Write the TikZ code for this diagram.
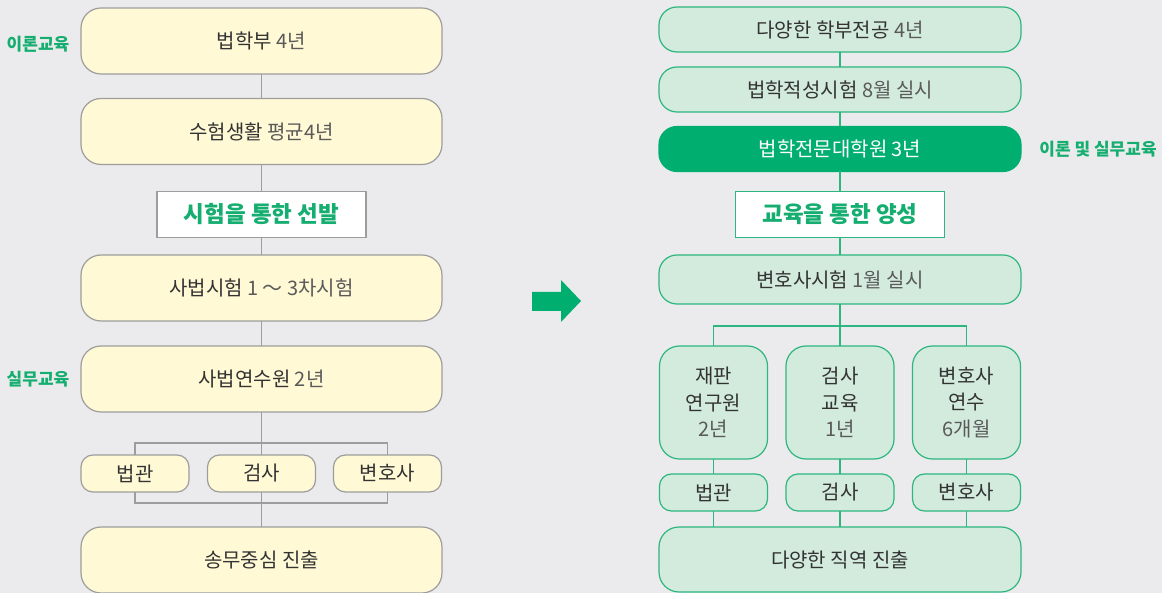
\documentclass[tikz,border=0pt]{standalone}
\usepackage{fontspec}
\setmainfont{Noto Sans CJK KR}
\definecolor{bg}{HTML}{EBEBED}
\definecolor{cream}{HTML}{FFF9D5}
\definecolor{grayline}{HTML}{9D9D9D}
\definecolor{lgreen}{HTML}{D3EBDD}
\definecolor{gline}{HTML}{2DB67F}
\definecolor{dgreen}{HTML}{00AE6F}
\definecolor{tgreen}{HTML}{16AE70}
\definecolor{txt}{HTML}{333333}
\definecolor{ltxt}{HTML}{5A5A5A}
\newcommand{\lt}[1]{{\color{ltxt}#1}}
\tikzset{
  base/.style={inner sep=0pt, outer sep=0pt, align=center, font=\fontsize{20}{26.5}\selectfont, text=txt},
  ybox/.style={base, draw=grayline, line width=1.2pt, fill=cream, rounded corners=20pt, minimum width=361pt, minimum height=66pt},
  ysmall/.style={base, draw=grayline, line width=1.2pt, fill=cream, rounded corners=12pt, minimum width=108pt, minimum height=37pt},
  gbox/.style={base, draw=gline, line width=1.2pt, fill=lgreen, rounded corners=18pt, minimum width=362pt, minimum height=45pt},
  gtall/.style={base, draw=gline, line width=1.2pt, fill=lgreen, rounded corners=20pt, minimum width=108pt, minimum height=113pt},
  gsmall/.style={base, draw=gline, line width=1.2pt, fill=lgreen, rounded corners=12pt, minimum width=108pt, minimum height=37pt},
  wbox/.style={base, fill=white, line width=1.2pt, minimum width=209pt, minimum height=46pt, font=\fontsize{22.5}{26}\selectfont\bfseries, text=tgreen},
  side/.style={inner sep=0pt, font=\fontsize{17}{20}\selectfont\bfseries, text=tgreen},
  lconn/.style={draw=grayline, line width=1.2pt},
  gconn/.style={draw=gline, line width=1.8pt},
}
\begin{document}
\begin{tikzpicture}[x=1pt,y=-1pt]
\fill[bg] (0,0) rectangle (1162,593);
\useasboundingbox (0,0) rectangle (1162,593);

% ---------- left column ----------
\coordinate (ltl) at (135,443);
\coordinate (ltr) at (387.5,443);
\coordinate (lbl) at (135,503);
\coordinate (lbr) at (387.5,503);

\node[ybox] (L1) at (261.5,41) {법학부 \lt{4년}};
\node[ybox] (L2) at (261.5,131.5) {수험생활 \lt{평균4년}};
\node[wbox, draw=grayline] (LW) at (261.5,214.5) {시험을 통한 선발};
\node[ybox] (L3) at (261.5,288) {사법시험 \lt{1 ～ 3차시험}};
\node[ybox] (L4) at (261.5,379) {사법연수원 \lt{2년}};
\node[ysmall] (LB1) at (135,473.5) {법관};
\node[ysmall] (LB2) at (261.5,473.5) {검사};
\node[ysmall] (LB3) at (387.5,473.5) {변호사};
\node[ybox] (L5) at (261.5,560) {송무중심 진출};

\draw[lconn] (L1.south) -- (L2.north);
\draw[lconn] (L2.south) -- (LW.north);
\draw[lconn] (LW.south) -- (L3.north);
\draw[lconn] (L3.south) -- (L4.north);
\draw[lconn] (L4.south) -- (LB2.north);
\draw[lconn] (LB2.south) -- (L5.north);
\draw[lconn] (LB1.north) -- (ltl) -- (ltr) -- (LB3.north);
\draw[lconn] (LB1.south) -- (lbl) -- (lbr) -- (LB3.south);

\node[side] (S1) at (38,44) {이론교육};
\node[side] (S2) at (38,379) {실무교육};

% ---------- arrow ----------
\fill[dgreen] (532,292) -- (561,292) -- (561,280) -- (581,301) -- (561,322) -- (561,311) -- (532,311) -- cycle;

% ---------- right column ----------
\node[gbox] (R1) at (840,29.5) {다양한 학부전공 \lt{4년}};
\node[gbox] (R2) at (840,89.5) {법학적성시험 \lt{8월 실시}};
\node[gbox, fill=dgreen, draw=dgreen, text=white] (R3) at (840,149) {법학전문대학원 3년};
\node[wbox, draw=gline] (RW) at (840,214.5) {교육을 통한 양성};
\node[gbox, minimum height=49pt] (R4) at (840,279.5) {변호사시험 \lt{1월 실시}};
\node[gtall] (T1) at (713.5,402.5) {재판\\연구원\\\lt{2년}};
\node[gtall] (T2) at (840,402.5) {검사\\교육\\\lt{1년}};
\node[gtall] (T3) at (966.5,402.5) {변호사\\연수\\\lt{6개월}};
\node[gsmall] (G1) at (713.5,492.5) {법관};
\node[gsmall] (G2) at (840,492.5) {검사};
\node[gsmall] (G3) at (966.5,492.5) {변호사};
\node[gbox, minimum height=65pt, rounded corners=20pt] (R5) at (840,559.5) {다양한 직역 진출};

\coordinate (rtl) at (713.5,326);
\coordinate (rtr) at (966.5,326);
\draw[gconn] (R1.south) -- (R2.north);
\draw[gconn] (R2.south) -- (R3.north);
\draw[gconn] (R3.south) -- (RW.north);
\draw[gconn] (RW.south) -- (R4.north);
\draw[gconn] (R4.south) -- (T2.north);
\draw[gconn] (T1.north) -- (rtl) -- (rtr) -- (T3.north);
\draw[gconn] (T1.south) -- (G1.north);
\draw[gconn] (T2.south) -- (G2.north);
\draw[gconn] (T3.south) -- (G3.north);
\draw[gconn] (G1.south) -- (R5.north -| G1.south);
\draw[gconn] (G2.south) -- (R5.north);
\draw[gconn] (G3.south) -- (R5.north -| G3.south);

\node[side] (S3) at (1098,149) {이론 및 실무교육};
\end{tikzpicture}
\end{document}
